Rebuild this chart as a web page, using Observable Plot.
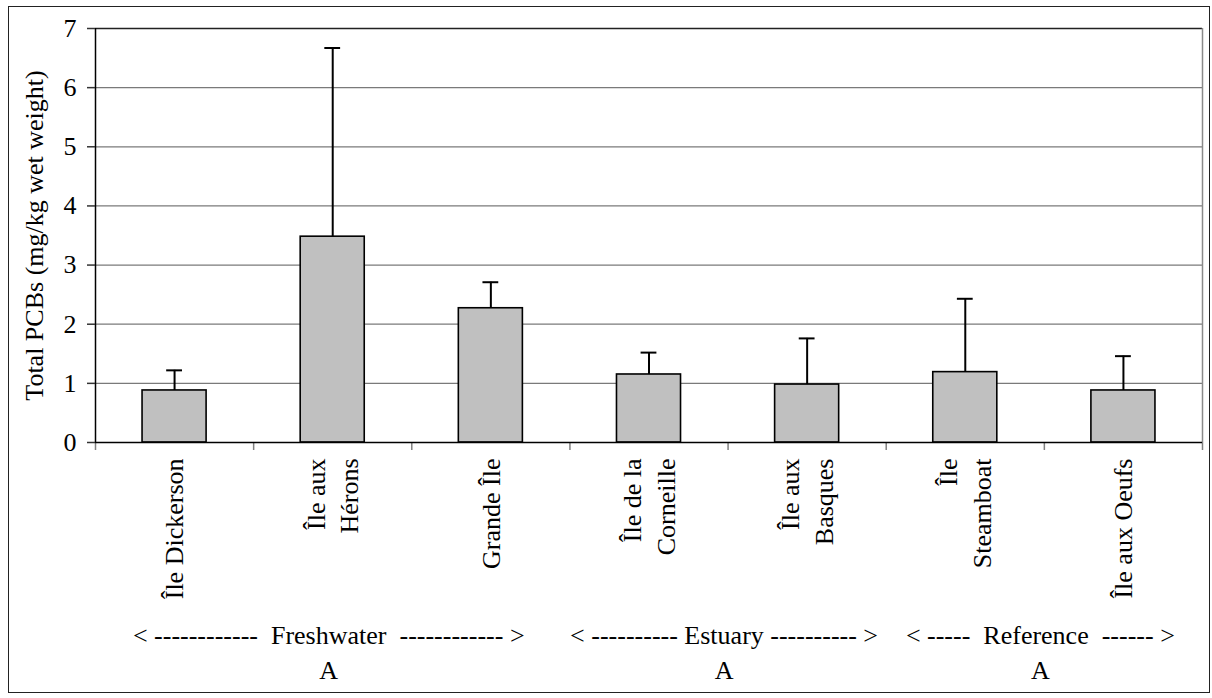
<!DOCTYPE html>
<html><head><meta charset="utf-8">
<script src="https://cdn.jsdelivr.net/npm/d3@7"></script>
<script src="https://cdn.jsdelivr.net/npm/@observablehq/plot@0.6"></script>
<style>
body{margin:0;background:#fff;}
#wrap{position:relative;width:1212px;height:698px;}
#frame{position:absolute;left:8px;top:6px;width:1200px;height:685px;border:1.5px solid #222;pointer-events:none;}
svg text{white-space:pre;}
</style></head><body><div id="wrap"><div id="chart"></div><div id="frame"></div></div>
<script>
const sites = ["Île Dickerson", "Île aux\nHérons", "Grande Île", "Île de la\nCorneille", "Île aux\nBasques", "Île\nSteamboat", "Île aux Oeufs"];
const means = [0.88, 3.48, 2.27, 1.15, 0.98, 1.19, 0.88];
const sds = [0.34, 3.19, 0.44, 0.37, 0.78, 1.24, 0.58];
const groups = ["< ------------  Freshwater  ------------ >", "< ---------- Estuary ---------- >", "< -----  Reference  ------ >"];
const groupLetters = ["A", "A", "A"];
const groupSpans = [[0, 3], [3, 5], [5, 7]];
const yTicks = [0, 1, 2, 3, 4, 5, 6, 7];
const yLabel = "Total PCBs (mg/kg wet weight)";

const data = sites.map((s, i) => ({site: s, i, mean: means[i], sd: sds[i]}));
const groupData = groups.map((g, i) => ({label: g, letter: groupLetters[i], mid: (groupSpans[i][0] + groupSpans[i][1]) / 2}));
const boundaries = d3.range(0, sites.length + 1);
const FS = 26;

const chart = Plot.plot({
  width: 1212,
  height: 698,
  marginLeft: 95,
  marginRight: 10,
  marginTop: 28,
  marginBottom: 256,
  style: {fontFamily: "'Liberation Serif', 'Times New Roman', serif", fontSize: FS + "px", color: "black", background: "white"},
  x: {type: "linear", domain: [0, sites.length], label: null},
  y: {domain: [0, 7], label: null},
  marks: [
    Plot.ruleY(yTicks.slice(1, 7), {stroke: "#7a7a7a", strokeWidth: 1.2}),
    Plot.ruleY([7], {stroke: "#222", strokeWidth: 1.5}),
    Plot.ruleX([sites.length], {stroke: "#8a8a8a", strokeWidth: 1.5}),
    Plot.axisX({ticks: boundaries, tickSize: 8, tickFormat: () => "", stroke: "#808080", strokeWidth: 1.5, label: null}),
    Plot.rect(data, {x1: d => d.i + 0.2975, x2: d => d.i + 0.7025, y1: 0, y2: "mean", fill: "#c0c0c0", stroke: "black", strokeWidth: 1.6}),
    Plot.ruleX(data, {x: d => d.i + 0.5, y1: "mean", y2: d => d.mean + d.sd, stroke: "black", strokeWidth: 2}),
    Plot.ruleY(data, {y: d => d.mean + d.sd, x1: d => d.i + 0.45, x2: d => d.i + 0.55, stroke: "black", strokeWidth: 2}),
    Plot.ruleY([0], {stroke: "black", strokeWidth: 1.5}),
    Plot.ruleX([0], {y1: 0, y2: 7, stroke: "black", strokeWidth: 1.5}),
    Plot.axisY({ticks: yTicks, tickFormat: d3.format("d"), tickSize: 8, tickPadding: 11, stroke: "#333", strokeWidth: 1.5, fontSize: FS, fill: "black", label: null}),
    Plot.text([yLabel], {frameAnchor: "left", textAnchor: "middle", dx: -61, rotate: -90, fontSize: FS, fill: "black"}),
    Plot.text(data, {x: d => d.i + 0.5, y: 0, text: "site", rotate: -90, textAnchor: "end", lineAnchor: "middle", lineHeight: 1.3, dy: 16, dx: -2, fontSize: FS, fill: "black"}),
    Plot.text(groupData, {x: "mid", y: 0, text: "label", dy: 193, dx: -4, fontSize: FS, fill: "black"}),
    Plot.text(groupData, {x: "mid", y: 0, text: "letter", dy: 228, dx: -4, fontSize: FS, fill: "black"})
  ]
});
document.getElementById("chart").appendChild(chart);
</script>
</body></html>
